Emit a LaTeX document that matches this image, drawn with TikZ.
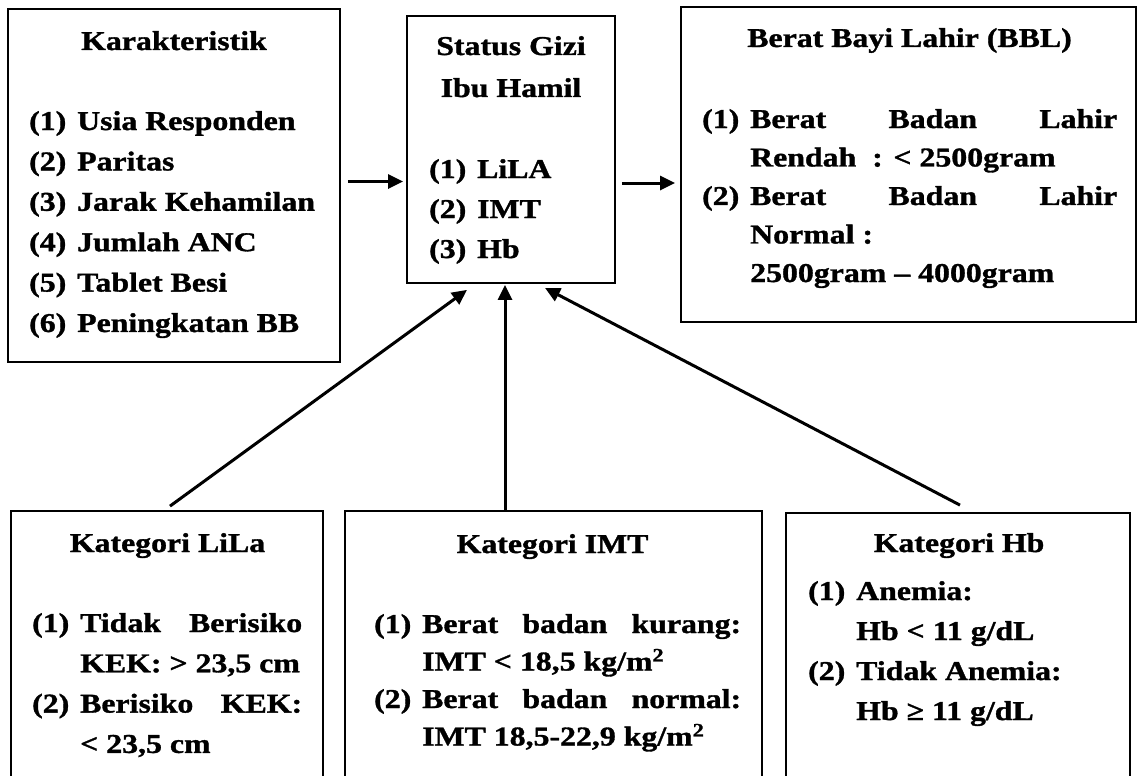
\documentclass[tikz,border=0pt]{standalone}
\usepackage{fontspec}
\setmainfont{Liberation Serif}[FakeStretch=1.17, BoldFeatures={FakeStretch=1.17, FakeBold=1.2}]
\usetikzlibrary{arrows.meta}

% numbered list with hanging numbers, line distance as first argument
\newcommand{\itemlist}[2]{\fontsize{27.2pt}{#1}\selectfont\begin{tabular}[t]{@{}p{48pt}@{}l@{}}#2\end{tabular}}

\begin{document}
\begin{tikzpicture}[x=1pt,y=-1pt,
    box/.style={draw, line width=1.8pt, inner sep=0pt},
    head/.style={font=\bfseries\fontsize{27.2pt}{42pt}\selectfont, anchor=base, inner sep=0pt},
    items/.style={font=\bfseries, anchor=base west, inner sep=0pt},
    arr/.style={-{Triangle[length=15pt,width=14pt]}, line width=3pt}]

% Page
\fill[white] (0,0) rectangle (1138,776);
\useasboundingbox (0,0) rectangle (1138,776);
\clip (0,0) rectangle (1138,776);

% Top row of boxes
\node[box, minimum width=332pt, minimum height=353pt] (kar) at (174,185.5) {};
\node[box, minimum width=208pt, minimum height=267pt] (sgz) at (511,149.5) {};
\node[box, minimum width=455pt, minimum height=315pt] (bbl) at (908.5,164.5) {};

% Bottom row of boxes (cut by the page edge)
\node[box, minimum width=312pt, minimum height=290pt] (lila) at (167,656) {};
\node[box, minimum width=417pt, minimum height=290pt] (imt) at (553.5,656) {};
\node[box, minimum width=344pt, minimum height=290pt] (hb) at (958,658) {};

% Karakteristik
\node[head] (karT) at (174,50) {Karakteristik};
\node[items] (karL) at (29,130) {\itemlist{40.4pt}{(1) & Usia Responden\\ (2) & Paritas\\ (3) & Jarak Kehamilan\\ (4) & Jumlah ANC\\ (5) & Tablet Besi\\ (6) & Peningkatan BB}};

% Status gizi
\node[head] (sgzT) at (511,55) {\begin{tabular}[t]{@{}c@{}}Status Gizi\\ Ibu Hamil\end{tabular}};
\node[items] (sgzL) at (429,178) {\itemlist{40pt}{(1) & LiLA\\ (2) & IMT\\ (3) & Hb}};

% Berat bayi lahir
\node[head] (bblT) at (909.5,47) {Berat Bayi Lahir (BBL)};
\node[items] (bblL) at (702,128) {\itemlist{38.5pt}{(1) & \makebox[367pt][s]{Berat Badan Lahir}\\ & Rendah\ \ : < 2500gram\\ (2) & \makebox[367pt][s]{Berat Badan Lahir}\\ & Normal :\\ & 2500gram -- 4000gram}};

% Kategori LiLa
\node[head] (lilaT) at (167.5,552) {Kategori LiLa};
\node[items] (lilaL) at (32,632) {\itemlist{40.3pt}{(1) & \makebox[222pt][s]{Tidak Berisiko}\\ & KEK: > 23,5 cm\\ (2) & \makebox[222pt][s]{Berisiko KEK:}\\ & < 23,5 cm}};

% Kategori IMT
\node[head] (imtT) at (552.5,553) {Kategori IMT};
\node[items] (imtL) at (374,633) {\itemlist{37.5pt}{(1) & \makebox[319pt][s]{Berat badan kurang:}\\ & IMT < 18,5 kg/m\textsuperscript{2}\\ (2) & \makebox[319pt][s]{Berat badan normal:}\\ & IMT 18,5-22,9 kg/m\textsuperscript{2}}};

% Kategori Hb
\node[head] (hbT) at (959,552) {Kategori Hb};
\node[items] (hbL) at (808,600) {\itemlist{40pt}{(1) & Anemia:\\ & Hb < 11 g/dL\\ (2) & Tidak Anemia:\\ & Hb ≥ 11 g/dL}};

% Arrows
\draw[arr] ([xshift=7pt,yshift=4pt]kar.east) -- ([xshift=-3pt,yshift=-32pt]sgz.west);
\draw[arr] ([xshift=6pt,yshift=-33.5pt]sgz.east) -- ([xshift=-5pt,yshift=-18.5pt]bbl.west);
\draw[arr] ([xshift=3pt,yshift=4pt]lila.north) -- ([xshift=-44pt,yshift=-6pt]sgz.south);
\draw[arr] ([xshift=-48.5pt]imt.north) -- ([xshift=-6pt,yshift=-1pt]sgz.south);
\draw[arr] ([xshift=2pt,yshift=7pt]hb.north) -- ([xshift=34pt,yshift=-4pt]sgz.south);

\end{tikzpicture}
\end{document}
